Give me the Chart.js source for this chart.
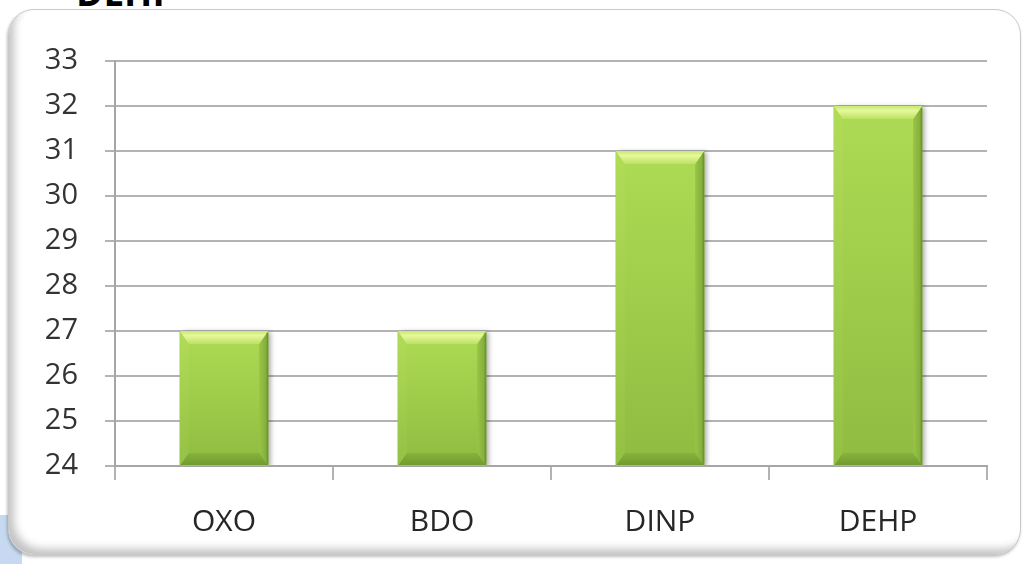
<!DOCTYPE html>
<html>
<head>
<meta charset="utf-8">
<script src="https://cdn.jsdelivr.net/npm/chart.js@4.4.1/dist/chart.umd.min.js"></script>
<style>
  html, body { margin: 0; padding: 0; background: #ffffff; }
  body { width: 1024px; height: 564px; position: relative; overflow: hidden; }
  #corner { position: absolute; left: 0; top: 515px; width: 22px; height: 49px; background: #c6d9f1; }
  #heading { position: absolute; left: 76px; top: -29px; font: bold 37px "Open Sans", sans-serif; color: #000; line-height: 42px; }
  #frame {
    position: absolute; left: 8px; top: 9px; width: 1011px; height: 544px;
    border: 1px solid #c9c9c9; border-radius: 26px; background: #ffffff;
    box-shadow: inset 8px -8px 8px -3px rgba(0,0,0,0.24), -1px 2px 3px rgba(0,0,0,0.25);
  }
  #chart { position: absolute; left: 0; top: 0; }
</style>
</head>
<body>
<div id="corner"></div>
<div id="heading">DEHP</div>
<div id="frame"></div>
<canvas id="chart" width="1024" height="564"></canvas>
<script>
const categories = ['OXO', 'BDO', 'DINP', 'DEHP'];
const values = [27, 27, 31, 32];
const yMin = 24;
const yMax = 33;

// Draws each bar as a bevelled green block on top of the plain bar elements.
const bevelBars = {
  id: 'bevelBars',
  afterDatasetsDraw(chart) {
    const ctx = chart.ctx;
    const area = chart.chartArea;
    const meta = chart.getDatasetMeta(0);
    meta.data.forEach(bar => {
      const p = bar.getProps(['x', 'y', 'base', 'width'], true);
      const L = p.x - p.width / 2, R = p.x + p.width / 2;
      const T = Math.max(area.top, Math.min(p.y, p.base));
      const B = Math.min(area.bottom, Math.max(p.y, p.base));
      const bv = 13, sv = 9;

      ctx.save();
      ctx.beginPath();
      ctx.rect(area.left, area.top - 2, area.right - area.left + 10, area.bottom - area.top + 1);
      ctx.clip();

      // soft drop shadow
      ctx.save();
      ctx.shadowColor = 'rgba(0,0,0,0.35)';
      ctx.shadowBlur = 5;
      ctx.shadowOffsetX = 3;
      ctx.shadowOffsetY = 1;
      ctx.fillStyle = '#98c545';
      ctx.fillRect(L, T, R - L, B - T);
      ctx.restore();

      // front face
      const face = ctx.createLinearGradient(0, T, 0, B);
      face.addColorStop(0, '#addb55');
      face.addColorStop(0.5, '#9fcc4a');
      face.addColorStop(1, '#8fbc41');
      ctx.fillStyle = face;
      ctx.fillRect(L, T, R - L, B - T);

      const poly = (pts, style) => {
        ctx.beginPath();
        ctx.moveTo(pts[0][0], pts[0][1]);
        for (let i = 1; i < pts.length; i++) ctx.lineTo(pts[i][0], pts[i][1]);
        ctx.closePath();
        ctx.fillStyle = style;
        ctx.fill();
      };

      // left bevel
      const lg = ctx.createLinearGradient(0, T, 0, B);
      lg.addColorStop(0, '#b1dc58');
      lg.addColorStop(1, '#94c144');
      poly([[L, T], [L + sv, T + bv], [L + sv, B - bv], [L, B]], lg);

      // right bevel
      const rg = ctx.createLinearGradient(R - sv, 0, R, 0);
      rg.addColorStop(0, '#98c546');
      rg.addColorStop(1, '#7fa93a');
      poly([[R, T], [R - sv, T + bv], [R - sv, B - bv], [R, B]], rg);

      // bottom bevel
      const bg = ctx.createLinearGradient(0, B - bv, 0, B);
      bg.addColorStop(0, '#86b33d');
      bg.addColorStop(1, '#6e992e');
      poly([[L, B], [L + sv, B - bv], [R - sv, B - bv], [R, B]], bg);

      // top bevel
      const tg = ctx.createLinearGradient(0, T, 0, T + bv);
      tg.addColorStop(0, '#c6e86e');
      tg.addColorStop(0.35, '#e6f89c');
      tg.addColorStop(1, '#bde162');
      poly([[L, T], [R, T], [R - sv, T + bv], [L + sv, T + bv]], tg);

      // dark right edge
      ctx.fillStyle = '#6f9530';
      ctx.fillRect(R - 1.5, T + 2, 1.5, B - T - 2);
      ctx.restore();
    });
  }
};

new Chart(document.getElementById('chart'), {
  type: 'bar',
  data: {
    labels: categories,
    datasets: [{
      data: values,
      backgroundColor: '#9fcb4a',
      borderWidth: 0,
      categoryPercentage: 1,
      barPercentage: 0.405
    }]
  },
  plugins: [bevelBars],
  options: {
    responsive: false,
    animation: false,
    events: [],
    layout: { padding: { top: 61, right: 37, left: 0, bottom: 0 } },
    plugins: { legend: { display: false }, tooltip: { enabled: false }, title: { display: false } },
    scales: {
      y: {
        min: yMin,
        max: yMax,
        afterFit(scale) { scale.width = 115; },
        ticks: {
          stepSize: 1,
          padding: 27,
          color: '#333333',
          font: { family: '"Open Sans", sans-serif', size: 29 }
        },
        grid: { color: '#b3b3b3', lineWidth: 2, tickLength: 10 },
        border: { color: '#a6a6a6', width: 2 }
      },
      x: {
        afterFit(scale) { scale.height = 98; },
        ticks: {
          padding: 24,
          color: '#262626',
          font: { family: '"Open Sans", sans-serif', size: 30 }
        },
        grid: { offset: true, drawOnChartArea: false, color: '#b3b3b3', lineWidth: 2, tickLength: 14 },
        border: { color: '#a6a6a6', width: 2 }
      }
    }
  }
});
</script>
</body>
</html>
